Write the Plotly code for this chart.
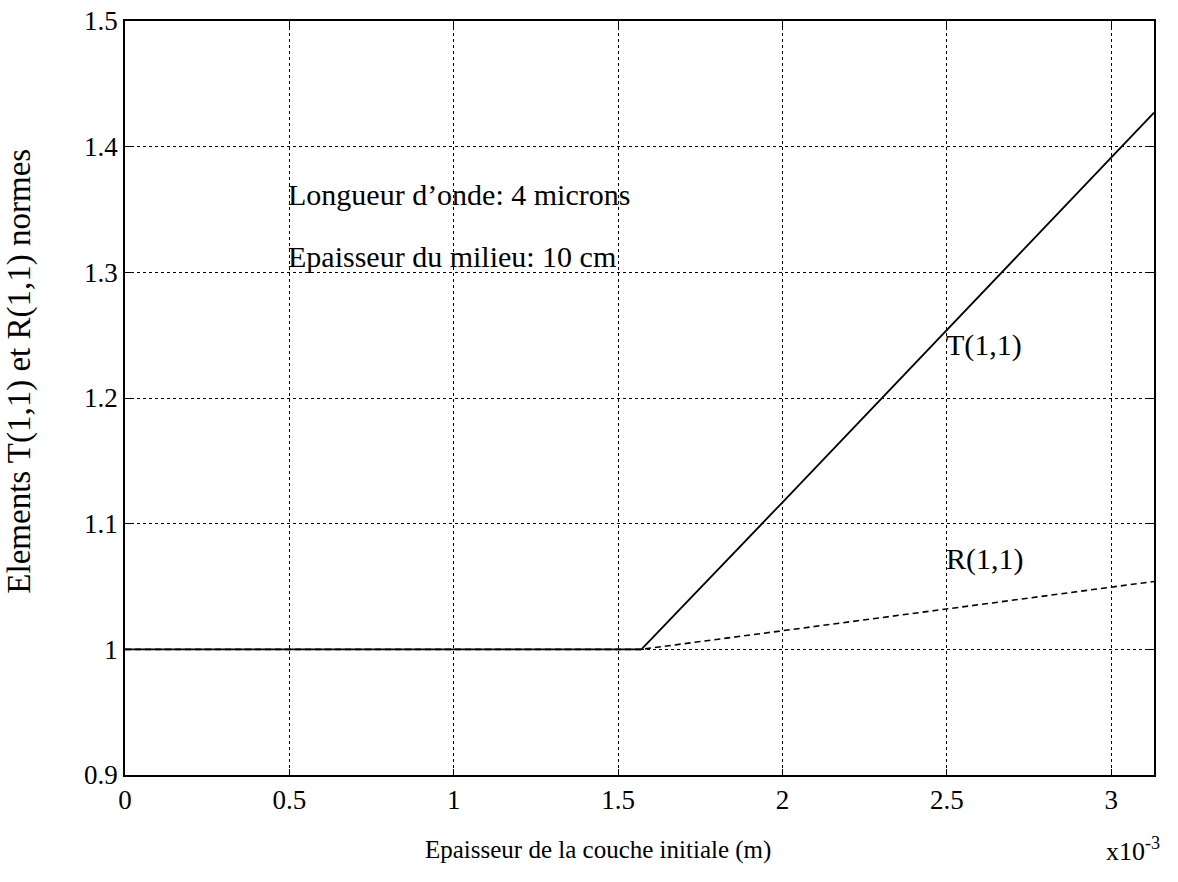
import plotly.graph_objects as go

# data (x in units of 1e-3 m)
x_vals = [0.0, 0.5, 1.0, 1.5, 1.5708, 2.0, 2.5, 3.0, 3.13]
t_vals = [1.0, 1.0, 1.0, 1.0, 1.0, 1.117, 1.254, 1.391, 1.427]
r_vals = [1.0, 1.0, 1.0, 1.0, 1.0, 1.0148, 1.032, 1.0494, 1.054]

x_ticks = [0, 0.5, 1, 1.5, 2, 2.5, 3]
x_tick_text = ["0", "0.5", "1", "1.5", "2", "2.5", "3"]
y_ticks = [0.9, 1.0, 1.1, 1.2, 1.3, 1.4, 1.5]
y_tick_text = ["0.9", "1", "1.1", "1.2", "1.3", "1.4", "1.5"]

FONT = "Liberation Serif"

fig = go.Figure()
fig.add_trace(go.Scatter(x=x_vals, y=r_vals, mode="lines",
                         line=dict(color="black", width=1.6, dash="6px,4px"),
                         showlegend=False))
fig.add_trace(go.Scatter(x=x_vals, y=t_vals, mode="lines",
                         line=dict(color="black", width=1.8),
                         showlegend=False))

axis_common = dict(showline=True, linecolor="black", linewidth=1.5, mirror="ticks",
                   showgrid=True, gridcolor="black", gridwidth=1, griddash="dot",
                   ticks="inside", ticklen=6, tickcolor="black", zeroline=False,
                   automargin=False, ticklabeloverflow="allow",
                   tickfont=dict(family=FONT, size=27, color="black"))

fig.update_xaxes(range=[0, 3.13], tickvals=x_ticks, ticktext=x_tick_text, **axis_common)
fig.update_yaxes(range=[0.9, 1.5], tickvals=y_ticks, ticktext=y_tick_text, **axis_common)

ann_font = dict(family=FONT, size=30, color="black")
fig.add_annotation(x=0.5, y=1.362, text="Longueur d\u2019onde: 4 microns", showarrow=False,
                   xanchor="left", yanchor="middle", xshift=-3, font=ann_font)
fig.add_annotation(x=0.5, y=1.313, text="Epaisseur du milieu: 10 cm", showarrow=False,
                   xanchor="left", yanchor="middle", xshift=-3, font=ann_font)
fig.add_annotation(x=2.5, y=1.242, text="T(1,1)", showarrow=False,
                   xanchor="left", yanchor="middle", xshift=-3, font=ann_font)
fig.add_annotation(x=2.5, y=1.0715, text="R(1,1)", showarrow=False,
                   xanchor="left", yanchor="middle", xshift=-3, font=ann_font)

# axis titles as annotations for exact placement
fig.add_annotation(xref="paper", yref="paper", x=0.46, y=-0.099,
                   text="Epaisseur de la couche initiale (m)", showarrow=False,
                   xanchor="center", yanchor="middle",
                   font=dict(family=FONT, size=25, color="black"))
fig.add_annotation(xref="paper", yref="paper", x=-0.102, y=0.535,
                   text="Elements T(1,1) et R(1,1) normes", showarrow=False,
                   textangle=-90, xanchor="center", yanchor="middle",
                   font=dict(family=FONT, size=33, color="black"))
fig.add_annotation(xref="paper", yref="paper", x=1.008, y=-0.099, text="x10<sup>-3</sup>",
                   showarrow=False, xanchor="right", yanchor="middle",
                   font=dict(family=FONT, size=26, color="black"))

fig.update_layout(width=1178, height=882, plot_bgcolor="white", paper_bgcolor="white",
                  margin=dict(l=125, r=24, t=21, b=107, autoexpand=False),
                  font=dict(family=FONT, color="black"))

fig.write_html("out.html", config={"displayModeBar": False},
               post_script="document.body.style.margin='0';document.body.style.overflow='hidden';")
